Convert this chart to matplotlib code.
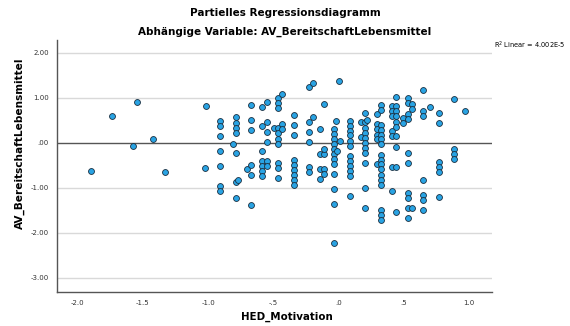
import numpy as np
import matplotlib
matplotlib.use("Agg")
import matplotlib.pyplot as plt

# ---- data ----
columns = [
    (-1.900, [-0.62]),
    (-1.737, [0.60]),
    (-1.576, [-0.08]),
    (-1.543, [0.90]),
    (-1.425, [0.09]),
    (-1.328, [-0.66]),
    (-1.026, [-0.57]),
    (-1.014, [0.82]),
    (-0.906, [0.49, 0.38, 0.15, -0.18, -0.51, -0.96, -1.07]),
    (-0.806, [-0.04]),
    (-0.788, [0.56, 0.44, 0.33, 0.22, -0.22, -0.88, -1.22]),
    (-0.773, [-0.83]),
    (-0.699, [-0.58]),
    (-0.668, [0.84, 0.51, 0.29, -0.49, -0.71, -1.38]),
    (-0.584, [0.80, 0.36, -0.18, -0.40, -0.52, -0.63, -0.75]),
    (-0.550, [0.90, 0.47, 0.24, 0.02, -0.41, -0.52]),
    (-0.490, [0.33]),
    (-0.463, [0.99, 0.88, 0.76, 0.33, 0.21, 0.09, -0.02, -0.46, -0.57, -0.79]),
    (-0.430, [1.09, 0.42, 0.31]),
    (-0.343, [0.61, 0.39, 0.16, -0.39, -0.50, -0.61, -0.72, -0.84, -0.95]),
    (-0.226, [1.23, 0.45, 0.23, 0.01, -0.55, -0.66]),
    (-0.193, [1.33, 0.56]),
    (-0.139, [0.30, -0.25, -0.58, -0.81]),
    (-0.108, [0.85, -0.25, -0.15, -0.58, -0.70]),
    (-0.030, [0.31, 0.19, 0.08, -0.03, -0.14, -0.25, -0.36, -0.47, -0.69, -1.02, -1.36, -2.24]),
    (-0.018, [0.49]),
    (-0.010, [-0.19]),
    (0.005, [1.36]),
    (0.012, [0.04]),
    (0.089, [0.49, 0.38, 0.27, 0.16, 0.04, -0.07, -0.29, -0.40, -0.51, -0.62, -0.73, -1.18]),
    (0.173, [0.45, 0.12]),
    (0.207, [0.67, 0.45, 0.33, 0.22, 0.11, 0.00, -0.11, -0.22, -0.45, -1.01, -1.45]),
    (0.222, [0.50]),
    (0.294, [0.64, 0.41, 0.30, 0.18, 0.08, -0.48]),
    (0.325, [0.84, 0.73, 0.39, 0.28, 0.18, 0.08, -0.04, -0.27, -0.38, -0.48, -0.59,
             -0.71, -0.83, -0.94, -1.50, -1.61, -1.72]),
    (0.411, [0.82, 0.70, 0.59, 0.26, 0.14, -0.53, -1.08]),
    (0.447, [1.02, 0.82, 0.70, 0.59, 0.47, 0.35, 0.14, -0.10, -0.53, -1.53]),
    (0.498, [0.54, 0.44]),
    (0.532, [0.99, 0.88, 0.64, 0.53, -0.24, -0.46, -1.12, -1.24, -1.46, -1.68]),
    (0.563, [0.86, 0.75, -1.46]),
    (0.649, [1.16, 0.71, 0.60, -0.84, -1.17, -1.28, -1.50]),
    (0.703, [0.80]),
    (0.770, [0.67, 0.44, -0.43, -0.54, -0.65, -1.21]),
    (0.887, [0.96, -0.15, -0.26, -0.37]),
    (0.974, [0.70]),
]
hed_motivation = [cx for cx, ys in columns for _ in ys]
av_bereitschaft = [y for cx, ys in columns for y in ys]

fit_intercept = 0.0
fit_slope = 0.0

x_ticks = [-2.0, -1.5, -1.0, -0.5, 0.0, 0.5, 1.0]
x_tick_labels = ["-2.0", "-1.5", "-1.0", "-.5", ".0", ".5", "1.0"]
y_ticks = [2.0, 1.0, 0.0, -1.0, -2.0, -3.0]
y_tick_labels = ["2.00", "1.00", ".00", "-1.00", "-2.00", "-3.00"]

# ---- figure ----
fig = plt.figure(figsize=(5.70, 3.26), dpi=100)
ax = fig.add_axes([0.100, 0.104, 0.763, 0.773])

xlim = (-2.16, 1.18)
ylim = (-3.32, 2.28)
ax.set_xlim(*xlim)
ax.set_ylim(*ylim)

for yt in y_ticks:
    if yt != 0.0:
        ax.axhline(yt, color="#d9d9d9", lw=1.0, zorder=0)

xs = np.array(xlim)
ax.plot(xs, fit_intercept + fit_slope * xs, color="#555555", lw=1.0, zorder=1)

ax.scatter(hed_motivation, av_bereitschaft, s=18, facecolor="#29a3e3",
           edgecolor="#1a2f40", linewidths=0.6, zorder=3)

ax.set_xticks(x_ticks)
ax.set_xticklabels(x_tick_labels)
ax.set_yticks(y_ticks)
ax.set_yticklabels(y_tick_labels)
ax.tick_params(axis="both", length=0, labelsize=5, colors="#333333", pad=6)

for s in ["top", "right"]:
    ax.spines[s].set_visible(False)
for s in ["left", "bottom"]:
    ax.spines[s].set_color("#555555")
    ax.spines[s].set_linewidth(1.0)

ax.set_xlabel("HED_Motivation", fontsize=7.4, fontweight="bold")
ax.xaxis.set_label_coords(0.529, -0.099)
ax.xaxis.label.set_va("center")
ax.set_ylabel("AV_BereitschaftLebensmittel", fontsize=7.6, fontweight="bold")
ax.yaxis.set_label_coords(-0.085, 0.591)
ax.yaxis.label.set_va("center")

fig.text(0.50, 1 - 13 / 326, "Partielles Regressionsdiagramm", ha="center", va="center",
         fontsize=7.5, fontweight="bold")
fig.text(0.50, 1 - 32 / 326, "Abhängige Variable: AV_BereitschaftLebensmittel",
         ha="center", va="center", fontsize=7.5, fontweight="bold")
fig.text(565 / 570, 1 - 45 / 326, "R$^2$ Linear = 4.002E-5", ha="right", va="center",
         fontsize=4.8)

fig.savefig("out.png", dpi=100)
